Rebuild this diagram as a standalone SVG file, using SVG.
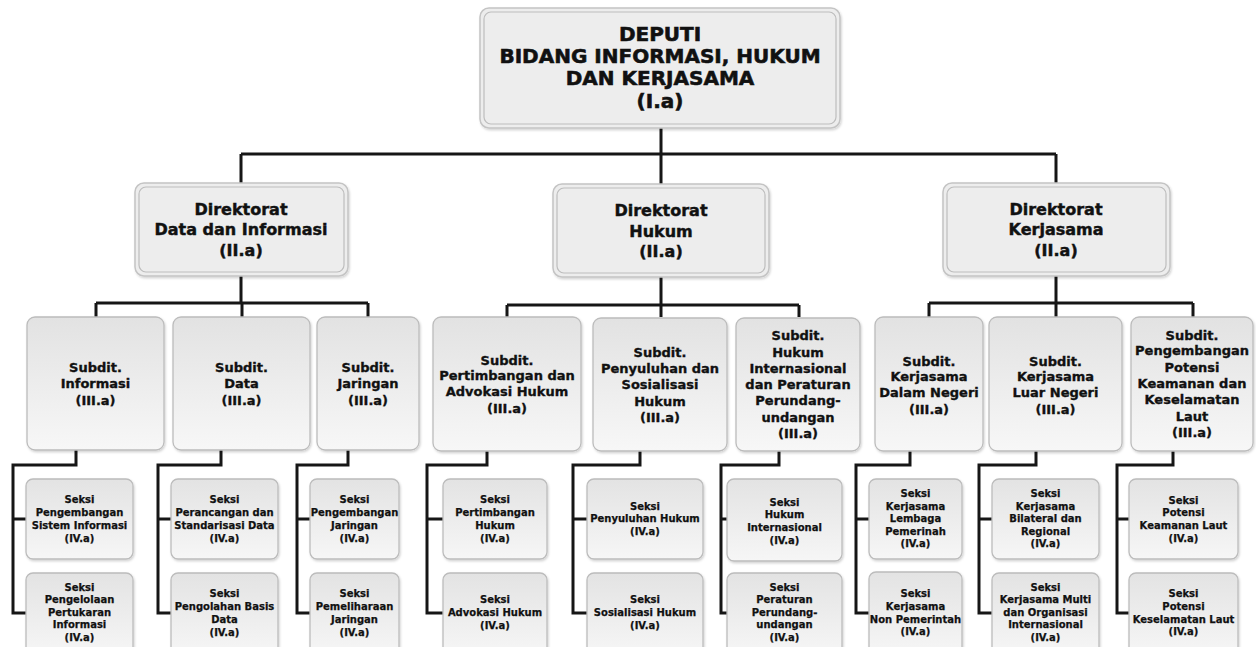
<svg xmlns="http://www.w3.org/2000/svg" width="1256" height="647" viewBox="0 0 1256 647">
  <style>
    text { font-family: "DejaVu Sans", "Liberation Sans", Arial, sans-serif; font-weight: bold; fill: #111; stroke: #111; stroke-width: 0.35; text-anchor: middle; }
    .t0 { font-size: 20px; stroke-width: 0.6; }
    .t1 { font-size: 16px; stroke-width: 0.45; }
    .t2 { font-size: 13px; }
    .t3 { font-size: 10px; stroke-width: 0.25; }
    .outer { fill: #ededed; stroke: #c4c4c4; stroke-width: 1.5; filter: url(#sh); }
    .inner { fill: none; stroke: #bdbdbd; stroke-width: 1.2; }
    .sub { fill: url(#gSub); stroke: #bcbcbc; stroke-width: 1.3; filter: url(#sh); }
    .sek { fill: url(#gSek); stroke: #bcbcbc; stroke-width: 1.3; filter: url(#sh); }
    .ln { fill: none; stroke: #161616; stroke-width: 3; stroke-linejoin: miter; }
  </style>
  <defs>
    <linearGradient id="gSub" x1="0" y1="0" x2="0" y2="1">
      <stop offset="0" stop-color="#e2e2e2"/>
      <stop offset="1" stop-color="#f7f7f7"/>
    </linearGradient>
    <linearGradient id="gSek" x1="0" y1="0" x2="0" y2="1">
      <stop offset="0" stop-color="#e3e3e3"/>
      <stop offset="1" stop-color="#f6f6f6"/>
    </linearGradient>
    <filter id="sh" x="-10%" y="-10%" width="120%" height="120%">
      <feDropShadow dx="1" dy="1.5" stdDeviation="1.2" flood-color="#000" flood-opacity="0.18"/>
    </filter>
  </defs>

  <rect width="1256" height="647" fill="#ffffff"/>

  <!-- connectors -->
  <g id="connectors" class="ln">
    <path class="ln" d="M661 128 V154 M241 154 H1056 M241 154 V183 M661 154 V184 M1056 154 V183"/>
    <path class="ln" d="M241 276 V303 M96 303 H368 M96 303 V317 M242 303 V317 M368 303 V317"/>
    <path class="ln" d="M661 277 V305 M507 305 H799 M507 305 V317 M661 305 V317 M799 305 V317"/>
    <path class="ln" d="M1056 276 V303 M929 303 H1193 M929 303 V317 M1056 303 V317 M1193 303 V317"/>
    <path class="ln" d="M76 450 V465 H13 V613 H26 M13 519 H26"/>
    <path class="ln" d="M221 450 V465 H158 V613 H171 M158 519 H171"/>
    <path class="ln" d="M348 450 V465 H297 V613 H310 M297 519 H310"/>
    <path class="ln" d="M487 451 V465 H427 V613 H443 M427 519 H443"/>
    <path class="ln" d="M640 451 V465 H573 V613 H587 M573 519 H587"/>
    <path class="ln" d="M779 451 V465 H721 V613 H727 M721 519 H727"/>
    <path class="ln" d="M910 451 V465 H856 V613 H869 M856 519 H869"/>
    <path class="ln" d="M1036 451 V465 H979 V613 H992 M979 519 H992"/>
    <path class="ln" d="M1173 451 V465 H1117 V613 H1129 M1117 519 H1129"/>
  </g>

  <!-- level I -->
  <g id="deputi">
    <rect class="outer" x="480" y="8" width="360" height="120" rx="9"/>
    <rect class="inner" x="484" y="12" width="352" height="112" rx="7"/>
    <text class="t0"><tspan x="660" y="41">DEPUTI</tspan><tspan x="660" y="63">BIDANG INFORMASI, HUKUM</tspan><tspan x="660" y="85">DAN KERJASAMA</tspan><tspan x="660" y="108">(I.a)</tspan></text>
  </g>

  <!-- level II -->
  <g id="dir-data">
    <rect class="outer" x="135" y="183" width="213" height="93" rx="9"/>
    <rect class="inner" x="139" y="187" width="205" height="85" rx="7"/>
    <text class="t1"><tspan x="241" y="215">Direktorat</tspan><tspan x="241" y="235">Data dan Informasi</tspan><tspan x="241" y="256">(II.a)</tspan></text>
  </g>
  <g id="dir-hukum">
    <rect class="outer" x="553" y="184" width="216" height="93" rx="9"/>
    <rect class="inner" x="557" y="188" width="208" height="85" rx="7"/>
    <text class="t1"><tspan x="661" y="216">Direktorat</tspan><tspan x="661" y="237">Hukum</tspan><tspan x="661" y="257">(II.a)</tspan></text>
  </g>
  <g id="dir-kerjasama">
    <rect class="outer" x="943" y="183" width="227" height="93" rx="9"/>
    <rect class="inner" x="947" y="187" width="219" height="85" rx="7"/>
    <text class="t1"><tspan x="1056" y="215">Direktorat</tspan><tspan x="1056" y="235">Kerjasama</tspan><tspan x="1056" y="256">(II.a)</tspan></text>
  </g>

  <!-- level III -->
  <g id="sub-informasi">
    <rect class="sub" x="27" y="317" width="137" height="133" rx="8"/>
    <text class="t2"><tspan x="95.5" y="372">Subdit.</tspan><tspan x="95.5" y="388">Informasi</tspan><tspan x="95.5" y="405">(III.a)</tspan></text>
  </g>
  <g id="sub-data">
    <rect class="sub" x="173" y="317" width="137" height="133" rx="8"/>
    <text class="t2"><tspan x="241.5" y="372">Subdit.</tspan><tspan x="241.5" y="388">Data</tspan><tspan x="241.5" y="405">(III.a)</tspan></text>
  </g>
  <g id="sub-jaringan">
    <rect class="sub" x="317" y="317" width="102" height="133" rx="8"/>
    <text class="t2"><tspan x="368" y="372">Subdit.</tspan><tspan x="368" y="388">Jaringan</tspan><tspan x="368" y="405">(III.a)</tspan></text>
  </g>
  <g id="sub-pertimbangan">
    <rect class="sub" x="433" y="317" width="148" height="134" rx="8"/>
    <text class="t2"><tspan x="507" y="365">Subdit.</tspan><tspan x="507" y="380">Pertimbangan dan</tspan><tspan x="507" y="396">Advokasi Hukum</tspan><tspan x="507" y="413">(III.a)</tspan></text>
  </g>
  <g id="sub-penyuluhan">
    <rect class="sub" x="593" y="318" width="134" height="133" rx="8"/>
    <text class="t2"><tspan x="660" y="357">Subdit.</tspan><tspan x="660" y="373">Penyuluhan dan</tspan><tspan x="660" y="389">Sosialisasi</tspan><tspan x="660" y="406">Hukum</tspan><tspan x="660" y="422">(III.a)</tspan></text>
  </g>
  <g id="sub-hukum-internasional">
    <rect class="sub" x="736" y="318" width="124" height="133" rx="8"/>
    <text class="t2"><tspan x="798" y="340">Subdit.</tspan><tspan x="798" y="357">Hukum</tspan><tspan x="798" y="373">Internasional</tspan><tspan x="798" y="389">dan Peraturan</tspan><tspan x="798" y="405">Perundang-</tspan><tspan x="798" y="422">undangan</tspan><tspan x="798" y="438">(III.a)</tspan></text>
  </g>
  <g id="sub-dalam-negeri">
    <rect class="sub" x="875" y="317" width="108" height="134" rx="8"/>
    <text class="t2"><tspan x="929" y="366">Subdit.</tspan><tspan x="929" y="381">Kerjasama</tspan><tspan x="929" y="397">Dalam Negeri</tspan><tspan x="929" y="414">(III.a)</tspan></text>
  </g>
  <g id="sub-luar-negeri">
    <rect class="sub" x="989" y="317" width="133" height="134" rx="8"/>
    <text class="t2"><tspan x="1055.5" y="366">Subdit.</tspan><tspan x="1055.5" y="381">Kerjasama</tspan><tspan x="1055.5" y="397">Luar Negeri</tspan><tspan x="1055.5" y="414">(III.a)</tspan></text>
  </g>
  <g id="sub-pengembangan">
    <rect class="sub" x="1131" y="317" width="122" height="134" rx="8"/>
    <text class="t2"><tspan x="1192" y="340">Subdit.</tspan><tspan x="1192" y="355">Pengembangan</tspan><tspan x="1192" y="372">Potensi</tspan><tspan x="1192" y="388">Keamanan dan</tspan><tspan x="1192" y="404">Keselamatan</tspan><tspan x="1192" y="421">Laut</tspan><tspan x="1192" y="437">(III.a)</tspan></text>
  </g>

  <!-- level IV -->
  <g id="sek-sistem-informasi">
    <rect class="sek" x="26" y="479" width="107" height="80" rx="7"/>
    <text class="t3"><tspan x="79.5" y="503">Seksi</tspan><tspan x="79.5" y="516">Pengembangan</tspan><tspan x="79.5" y="529">Sistem Informasi</tspan><tspan x="79.5" y="542">(IV.a)</tspan></text>
  </g>
  <g id="sek-pertukaran-informasi">
    <rect class="sek" x="26" y="573" width="107" height="82" rx="7"/>
    <text class="t3"><tspan x="79.5" y="591">Seksi</tspan><tspan x="79.5" y="603">Pengelolaan</tspan><tspan x="79.5" y="616">Pertukaran</tspan><tspan x="79.5" y="628">Informasi</tspan><tspan x="79.5" y="641">(IV.a)</tspan></text>
  </g>
  <g id="sek-standarisasi-data">
    <rect class="sek" x="171" y="479" width="107" height="80" rx="7"/>
    <text class="t3"><tspan x="224.5" y="503">Seksi</tspan><tspan x="224.5" y="516">Perancangan dan</tspan><tspan x="224.5" y="529">Standarisasi Data</tspan><tspan x="224.5" y="542">(IV.a)</tspan></text>
  </g>
  <g id="sek-basis-data">
    <rect class="sek" x="171" y="573" width="107" height="82" rx="7"/>
    <text class="t3"><tspan x="224.5" y="597">Seksi</tspan><tspan x="224.5" y="610">Pengolahan Basis</tspan><tspan x="224.5" y="623">Data</tspan><tspan x="224.5" y="636">(IV.a)</tspan></text>
  </g>
  <g id="sek-pengembangan-jaringan">
    <rect class="sek" x="310" y="479" width="89" height="80" rx="7"/>
    <text class="t3"><tspan x="354.5" y="503">Seksi</tspan><tspan x="354.5" y="516">Pengembangan</tspan><tspan x="354.5" y="529">Jaringan</tspan><tspan x="354.5" y="542">(IV.a)</tspan></text>
  </g>
  <g id="sek-pemeliharaan-jaringan">
    <rect class="sek" x="310" y="573" width="89" height="82" rx="7"/>
    <text class="t3"><tspan x="354.5" y="597">Seksi</tspan><tspan x="354.5" y="610">Pemeliharaan</tspan><tspan x="354.5" y="623">Jaringan</tspan><tspan x="354.5" y="636">(IV.a)</tspan></text>
  </g>
  <g id="sek-pertimbangan">
    <rect class="sek" x="443" y="479" width="104" height="80" rx="7"/>
    <text class="t3"><tspan x="495" y="503">Seksi</tspan><tspan x="495" y="516">Pertimbangan</tspan><tspan x="495" y="529">Hukum</tspan><tspan x="495" y="542">(IV.a)</tspan></text>
  </g>
  <g id="sek-advokasi">
    <rect class="sek" x="443" y="573" width="104" height="82" rx="7"/>
    <text class="t3"><tspan x="495" y="603">Seksi</tspan><tspan x="495" y="616">Advokasi Hukum</tspan><tspan x="495" y="629">(IV.a)</tspan></text>
  </g>
  <g id="sek-penyuluhan">
    <rect class="sek" x="587" y="479" width="116" height="80" rx="7"/>
    <text class="t3"><tspan x="645" y="510">Seksi</tspan><tspan x="645" y="522">Penyuluhan Hukum</tspan><tspan x="645" y="535">(IV.a)</tspan></text>
  </g>
  <g id="sek-sosialisasi">
    <rect class="sek" x="587" y="573" width="116" height="82" rx="7"/>
    <text class="t3"><tspan x="645" y="603">Seksi</tspan><tspan x="645" y="616">Sosialisasi Hukum</tspan><tspan x="645" y="629">(IV.a)</tspan></text>
  </g>
  <g id="sek-hukum-internasional">
    <rect class="sek" x="727" y="479" width="115" height="82" rx="7"/>
    <text class="t3"><tspan x="784.5" y="506">Seksi</tspan><tspan x="784.5" y="518">Hukum</tspan><tspan x="784.5" y="531">Internasional</tspan><tspan x="784.5" y="544">(IV.a)</tspan></text>
  </g>
  <g id="sek-peraturan">
    <rect class="sek" x="727" y="573" width="115" height="82" rx="7"/>
    <text class="t3"><tspan x="784.5" y="591">Seksi</tspan><tspan x="784.5" y="603">Peraturan</tspan><tspan x="784.5" y="616">Perundang-</tspan><tspan x="784.5" y="628">undangan</tspan><tspan x="784.5" y="641">(IV.a)</tspan></text>
  </g>
  <g id="sek-lembaga-pemerintah">
    <rect class="sek" x="869" y="479" width="93" height="80" rx="7"/>
    <text class="t3"><tspan x="915.5" y="497">Seksi</tspan><tspan x="915.5" y="510">Kerjasama</tspan><tspan x="915.5" y="522">Lembaga</tspan><tspan x="915.5" y="535">Pemerinah</tspan><tspan x="915.5" y="547">(IV.a)</tspan></text>
  </g>
  <g id="sek-non-pemerintah">
    <rect class="sek" x="869" y="572" width="93" height="83" rx="7"/>
    <text class="t3"><tspan x="915.5" y="597">Seksi</tspan><tspan x="915.5" y="610">Kerjasama</tspan><tspan x="915.5" y="623">Non Pemerintah</tspan><tspan x="915.5" y="635">(IV.a)</tspan></text>
  </g>
  <g id="sek-bilateral">
    <rect class="sek" x="992" y="479" width="107" height="80" rx="7"/>
    <text class="t3"><tspan x="1045.5" y="497">Seksi</tspan><tspan x="1045.5" y="510">Kerjasama</tspan><tspan x="1045.5" y="522">Bilateral dan</tspan><tspan x="1045.5" y="535">Regional</tspan><tspan x="1045.5" y="547">(IV.a)</tspan></text>
  </g>
  <g id="sek-multilateral">
    <rect class="sek" x="992" y="573" width="107" height="82" rx="7"/>
    <text class="t3"><tspan x="1045.5" y="591">Seksi</tspan><tspan x="1045.5" y="603">Kerjasama Multi</tspan><tspan x="1045.5" y="616">dan Organisasi</tspan><tspan x="1045.5" y="628">Internasional</tspan><tspan x="1045.5" y="641">(IV.a)</tspan></text>
  </g>
  <g id="sek-keamanan-laut">
    <rect class="sek" x="1129" y="479" width="109" height="80" rx="7"/>
    <text class="t3"><tspan x="1183.5" y="504">Seksi</tspan><tspan x="1183.5" y="516">Potensi</tspan><tspan x="1183.5" y="529">Keamanan Laut</tspan><tspan x="1183.5" y="542">(IV.a)</tspan></text>
  </g>
  <g id="sek-keselamatan-laut">
    <rect class="sek" x="1129" y="573" width="109" height="82" rx="7"/>
    <text class="t3"><tspan x="1183.5" y="597">Seksi</tspan><tspan x="1183.5" y="610">Potensi</tspan><tspan x="1183.5" y="623">Keselamatan Laut</tspan><tspan x="1183.5" y="635">(IV.a)</tspan></text>
  </g>
</svg>
